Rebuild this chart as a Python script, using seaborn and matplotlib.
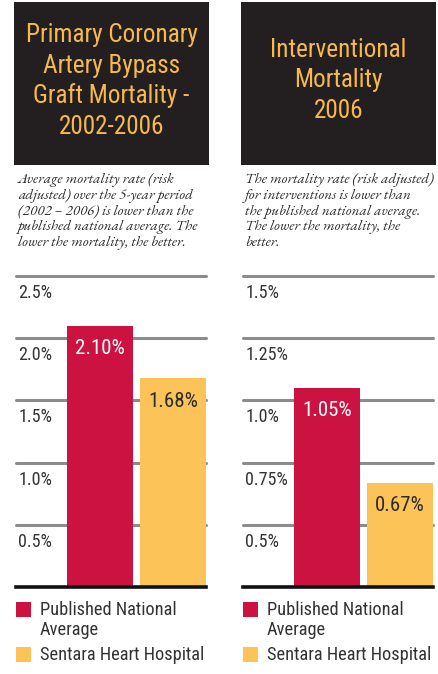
import matplotlib
matplotlib.use("Agg")
import pandas as pd
import matplotlib.pyplot as plt
from matplotlib import transforms
from matplotlib.patches import Rectangle
import seaborn as sns

# ---- data ----
groups = ["Published National\nAverage", "Sentara Heart Hospital"]
cabg_values = [2.10, 1.68]
interv_values = [1.05, 0.67]

cabg_ticks = [0.5, 1.0, 1.5, 2.0, 2.5]
cabg_tick_labels = ["0.5%", "1.0%", "1.5%", "2.0%", "2.5%"]
interv_ticks = [0.5, 0.75, 1.0, 1.25, 1.5]
interv_tick_labels = ["0.5%", "0.75%", "1.0%", "1.25%", "1.5%"]

cabg_title = ["Primary Coronary", "Artery Bypass", "Graft Mortality -", "2002-2006"]
interv_title = ["Interventional", "Mortality", "2006"]

cabg_note = ["Average mortality rate (risk",
             "adjusted) over the 5-year period",
             "(2002 \u2013 2006) is lower than the",
             "published national average. The",
             "lower the mortality, the better."]
interv_note = ["The mortality rate (risk adjusted)",
               "for interventions is lower than",
               "the published national average.",
               "The lower the mortality, the",
               "better."]

bar_colors = ["#cc1241", "#fcc359"]
value_colors = ["white", "#2b2b2b"]

W, H = 438, 674
sns.set_theme(style="white")
plt.rcParams['font.family'] = ['Roboto Condensed', 'Archivo Narrow', 'Roboto', 'DejaVu Sans']
serif = ['EB Garamond', 'Liberation Serif', 'DejaVu Serif']

fig = plt.figure(figsize=(W / 100, H / 100), dpi=100)
fig.patch.set_facecolor("white")


def fx(x):
    return x / W


def fy(y):
    return 1 - y / H


def draw_panel(left, values, ylim, ticks, tick_labels, title, title_y, note):
    # black title box
    fig.add_artist(Rectangle((fx(left - 2), fy(165)), 195 / W, 163 / H,
                             transform=fig.transFigure, color="#231f20", lw=0))
    cx = left - 2 + 97.5
    for i, line in enumerate(title):
        fig.text(fx(cx), fy(title_y + 30.5 * i), line, ha="center", va="center",
                 color="#f6b94b", fontsize=18.2)
    for i, line in enumerate(note):
        fig.text(fx(left + 2), fy(180 + 15.8 * i), line, ha="left", va="center",
                 color="#2a2a2a", fontsize=10.8, style="italic", family=serif)

    ax = fig.add_axes([fx(left), fy(587), 190 / W, 311 / H])
    df = pd.DataFrame({"group": groups, "value": values})
    sns.barplot(data=df, x="group", y="value", hue="group", palette=bar_colors,
                saturation=1, width=0.904, legend=False, linewidth=0, ax=ax)
    ax.set_xlim(-1.151, 1.452)
    ax.set_ylim(*ylim)
    ax.set_yticks(ticks)
    ax.set_xlabel("")
    ax.set_ylabel("")
    ax.tick_params(length=0, labelleft=False, labelbottom=False)
    ax.yaxis.grid(True, color="#8c8c8c", lw=2.2)
    for gl in ax.get_ygridlines():
        gl.set_clip_on(False)
    ax.set_axisbelow(True)
    for s in ["top", "left", "right"]:
        ax.spines[s].set_visible(False)
    ax.spines["bottom"].set_color("#111111")
    ax.spines["bottom"].set_linewidth(2.6)

    off = transforms.ScaledTranslation(0, -17 / 100, fig.dpi_scale_trans)
    for t, lab in zip(ticks, tick_labels):
        ax.text(0.012, t, lab, transform=ax.get_yaxis_transform() + off,
                ha="left", va="center", fontsize=13, color="#333333")

    for i, v in enumerate(values):
        ax.annotate(f"{v:.2f}%", (i, v), xytext=(0, -23), textcoords="offset pixels",
                    ha="center", va="center", fontsize=15, color=value_colors[i])

    # legend
    for i, (g, c) in enumerate(zip(groups, bar_colors)):
        ty = [602, 647][i]
        fig.add_artist(Rectangle((fx(left), fy(ty + 15)), 15 / W, 15 / H,
                                 transform=fig.transFigure, color=c, lw=0))
        for j, part in enumerate(g.split("\n")):
            fig.text(fx(left + 24), fy(ty + 8 + 20 * j), part, ha="left", va="center",
                     fontsize=13.2, color="#333333")
    return ax


draw_panel(16, cabg_values, (0, 2.5), cabg_ticks, cabg_tick_labels,
           cabg_title, 35, cabg_note)
draw_panel(243, interv_values, (0.25, 1.5), interv_ticks, interv_tick_labels,
           interv_title, 50, interv_note)

fig.savefig("out.png", dpi=100)
